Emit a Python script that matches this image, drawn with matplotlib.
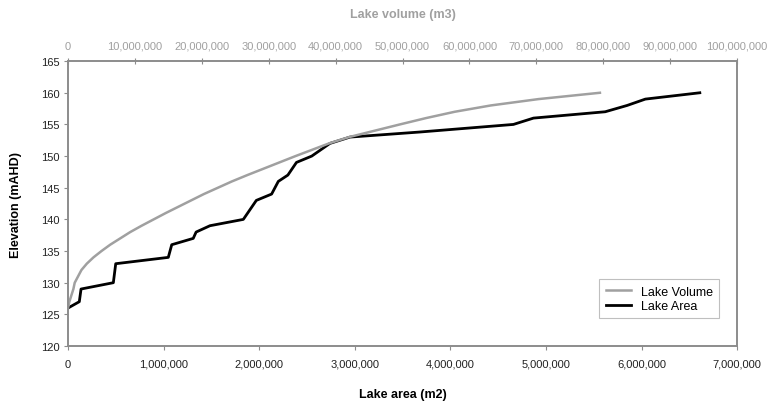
import matplotlib
matplotlib.use("agg")
import matplotlib.pyplot as plt
from matplotlib.ticker import FuncFormatter, MultipleLocator

plt.rcParams['font.family'] = ['Liberation Sans', 'DejaVu Sans']

# Lake area (m2) vs elevation (mAHD) -- bottom axis
area = [0, 118000, 136000, 474000, 499000, 1049000, 1085000, 1310000, 1340000,
        1485000, 1834000, 1970000, 2130000, 2200000, 2300000, 2390000, 2550000,
        2740000, 2950000, 3680000, 4660000, 4870000, 5620000, 5850000, 6040000,
        6610000]
area_elev = [126, 127, 129, 130, 133, 134, 136, 137, 138, 139, 140, 143, 144,
             146, 147, 149, 150, 152, 153, 153.8, 155, 156, 157, 158, 159, 160]

# Lake volume (m3) vs elevation (mAHD) -- top axis
volume = [0, 200000, 500000, 800000, 1000000, 1500000, 2000000, 2800000,
          3800000, 5000000, 6300000, 7800000, 9300000, 11000000, 12800000,
          14600000, 16500000, 18400000, 20300000, 22400000, 24500000, 26800000,
          29200000, 31600000, 34000000, 36500000, 39000000, 42000000, 45800000,
          49600000, 53500000, 57800000, 63200000, 70300000, 79500000]
volume_elev = list(range(126, 161))

grey = '#a0a0a0'
axis_col = '#8c8c8c'

fig = plt.figure(figsize=(7.67, 4.06), dpi=100)
ax = fig.add_axes([0.0887, 0.1453, 0.8723, 0.7017])
ax2 = ax.twiny()

l_area, = ax.plot(area, area_elev, color='black', lw=2.0, zorder=3)
l_vol, = ax2.plot(volume, volume_elev, color=grey, lw=1.8, zorder=2)

ax.set_xlim(0, 7000000)
ax.set_ylim(120, 165)
ax2.set_xlim(0, 100000000)

comma = FuncFormatter(lambda v, p: f"{int(v):,}")
ax.xaxis.set_major_locator(MultipleLocator(1000000))
ax.xaxis.set_major_formatter(comma)
ax.yaxis.set_major_locator(MultipleLocator(5))
ax2.xaxis.set_major_locator(MultipleLocator(10000000))
ax2.xaxis.set_major_formatter(comma)

for a in (ax, ax2):
    for s in a.spines.values():
        s.set_color(axis_col)
        s.set_linewidth(1.2)

ax.tick_params(axis='x', direction='out', length=3, color=axis_col,
               labelsize=8, pad=6, labelcolor='#222222')
ax.tick_params(axis='y', direction='out', length=3, color=axis_col,
               labelsize=8, pad=3, labelcolor='#222222')
ax2.tick_params(axis='x', direction='inout', length=5, color=axis_col,
                labelsize=8, pad=5, labelcolor=grey)

ax.set_xlabel('Lake area (m2)', fontsize=9, fontweight='bold', labelpad=14)
ax.set_ylabel('Elevation (mAHD)', fontsize=9, fontweight='bold', labelpad=14)
ax2.set_xlabel('Lake volume (m3)', fontsize=9, fontweight='bold',
               color=grey, labelpad=17)

leg = ax.legend([l_vol, l_area], ['Lake Volume', 'Lake Area'],
                loc='lower right', bbox_to_anchor=(0.982, 0.075), fontsize=9,
                frameon=True, fancybox=False, handlelength=2.0,
                borderpad=0.5, labelspacing=0.2)
leg.get_frame().set_edgecolor('#b0b0b0')
leg.get_frame().set_linewidth(0.8)

fig.savefig('out.png', dpi=100)
